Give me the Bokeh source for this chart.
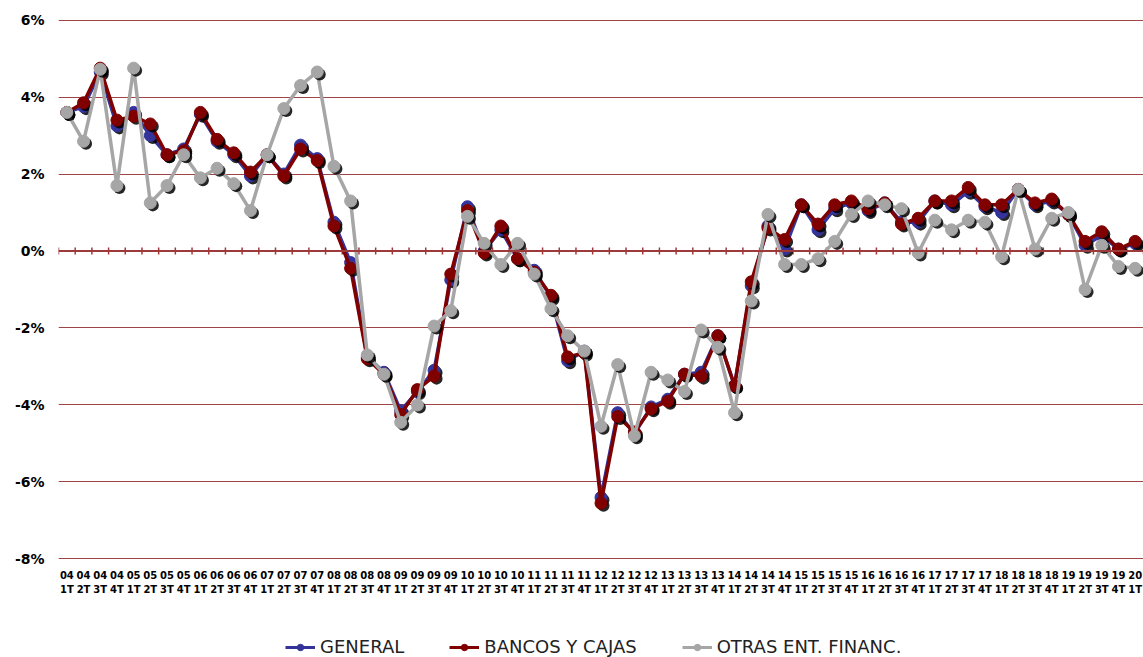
from bokeh.plotting import figure
from bokeh.layouts import column
from bokeh.models import Range1d, FixedTicker, Legend, LegendItem, Span, ColumnDataSource
from bokeh.embed import file_html
from bokeh.resources import INLINE

years = ["04","04","04","04","05","05","05","05","06","06","06","06","07","07","07","07",
         "08","08","08","08","09","09","09","09","10","10","10","10","11","11","11","11",
         "12","12","12","12","13","13","13","13","14","14","14","14","15","15","15","15",
         "16","16","16","16","17","17","17","17","18","18","18","18","19","19","19","19","20"]
quarters = ["1T","2T","3T","4T"] * 16 + ["1T"]

general = [3.6, 3.75, 4.65, 3.25, 3.6, 3.0, 2.5, 2.65, 3.55, 2.85, 2.5, 1.95, 2.5, 2.0, 2.75, 2.4,
           0.75, -0.3, -2.75, -3.15, -4.15, -3.65, -3.1, -0.75, 1.15, 0.0, 0.55, -0.2, -0.5, -1.2, -2.85, -2.6,
           -6.4, -4.2, -4.75, -4.05, -3.85, -3.2, -3.15, -2.2, -3.5, -0.9, 0.65, 0.05, 1.2, 0.55, 1.1, 1.25,
           1.05, 1.25, 0.75, 0.75, 1.3, 1.2, 1.55, 1.15, 1.0, 1.6, 1.2, 1.3, 0.95, 0.15, 0.4, 0.05, 0.2]
bancos = [3.6, 3.85, 4.75, 3.4, 3.5, 3.3, 2.5, 2.6, 3.6, 2.9, 2.55, 2.05, 2.5, 1.95, 2.65, 2.35,
          0.65, -0.45, -2.8, -3.2, -4.25, -3.6, -3.25, -0.6, 1.05, -0.05, 0.65, -0.2, -0.55, -1.15, -2.75, -2.65,
          -6.55, -4.3, -4.7, -4.1, -3.9, -3.2, -3.25, -2.2, -3.5, -0.8, 0.6, 0.3, 1.2, 0.7, 1.2, 1.3,
          1.1, 1.25, 0.7, 0.85, 1.3, 1.3, 1.65, 1.2, 1.2, 1.6, 1.25, 1.35, 0.95, 0.25, 0.5, 0.05, 0.25]
otras = [3.6, 2.85, 4.72, 1.7, 4.75, 1.25, 1.7, 2.5, 1.9, 2.15, 1.75, 1.05, 2.5, 3.7, 4.3, 4.65,
         2.2, 1.3, -2.7, -3.2, -4.45, -4.0, -1.95, -1.55, 0.9, 0.2, -0.35, 0.2, -0.6, -1.5, -2.2, -2.6,
         -4.55, -2.95, -4.8, -3.15, -3.35, -3.65, -2.05, -2.5, -4.2, -1.3, 0.95, -0.35, -0.35, -0.2, 0.25, 0.95,
         1.3, 1.2, 1.1, -0.05, 0.8, 0.55, 0.8, 0.75, -0.15, 1.6, 0.05, 0.85, 1.0, -1.0, 0.15, -0.4, -0.45]

series_names = ["GENERAL", "BANCOS Y CAJAS", "OTRAS ENT. FINANC."]
series_colors = ["#333399", "#800000", "#A6A6A6"]
y_ticks = [-8, -6, -4, -2, 0, 2, 4, 6]

n = len(years)
xs = list(range(n))

p = figure(width=1143, height=600, output_backend="svg", toolbar_location=None,
           x_range=Range1d(-0.5, n - 0.5), y_range=Range1d(-8.013, 6.013),
           min_border_left=58, min_border_right=0, min_border_top=19, min_border_bottom=41)
p.outline_line_color = None
p.background_fill_color = "white"
p.border_fill_color = "white"

# axes
p.xaxis.ticker = FixedTicker(ticks=xs)
p.xaxis.major_label_overrides = {i: f"{years[i]}\n{quarters[i]}" for i in xs}
p.xaxis.axis_line_color = None
p.xaxis.major_tick_line_color = None
p.xaxis.minor_tick_line_color = None
p.xaxis.major_tick_out = 0
p.xaxis.major_label_standoff = 10
p.xaxis.major_label_text_font = "DejaVu Sans"
p.xaxis.major_label_text_font_style = "bold"
p.xaxis.major_label_text_font_size = "10px"
p.xaxis.major_label_text_color = "black"
p.xaxis.major_label_text_line_height = 1.3

p.yaxis.ticker = FixedTicker(ticks=y_ticks)
p.yaxis.major_label_overrides = {t: f"{t}%" for t in y_ticks}
p.yaxis.axis_line_color = None
p.yaxis.major_tick_line_color = None
p.yaxis.minor_tick_line_color = None
p.yaxis.major_tick_out = 0
p.yaxis.major_label_standoff = 14
p.yaxis.major_label_text_font = "DejaVu Sans"
p.yaxis.major_label_text_font_style = "bold"
p.yaxis.major_label_text_font_size = "14px"
p.yaxis.major_label_text_color = "black"

p.xgrid.grid_line_color = None
p.ygrid.ticker = FixedTicker(ticks=[t for t in y_ticks if t != 0])
p.ygrid.grid_line_color = "#A04545"
p.ygrid.grid_line_width = 1

# zero line with category tick marks
p.add_layout(Span(location=0, dimension="width", line_color="#9E3A3A", line_width=2))
bounds = [i - 0.5 for i in range(n + 1)]
p.segment(x0=bounds, x1=bounds, y0=[-0.09] * len(bounds), y1=[0.09] * len(bounds),
          line_color="#9E3A3A", line_width=1.5)

# legend strip below the chart
lg = figure(width=1143, height=57, output_backend="svg", toolbar_location=None,
            x_range=Range1d(-0.5, n - 0.5), y_range=Range1d(100, 110),
            min_border_left=58, min_border_right=0, min_border_top=0, min_border_bottom=0,
            x_axis_type=None, y_axis_type=None)
lg.outline_line_color = None
lg.grid.visible = False
lg.border_fill_color = "white"
lg.background_fill_color = "white"

items = []
for name, color, vals in zip(series_names, series_colors, [general, bancos, otras]):
    src = ColumnDataSource(dict(x=xs, y=vals,
                                xs_sh=[x + 0.15 for x in xs], ys_sh=[v - 0.065 for v in vals]))
    p.line("x", "y", source=src, line_color=color, line_width=3.5)
    p.scatter("xs_sh", "ys_sh", source=src, size=12, fill_color="black", line_color=None, fill_alpha=0.85)
    p.scatter("x", "y", source=src, size=12, fill_color=color, line_color=color)
    # same data in the legend strip (outside its visible range), used only for legend glyphs
    l_ln = lg.line("x", "y", source=src, line_color=color, line_width=3)
    l_mk = lg.scatter("x", "y", source=src, size=8, fill_color=color, line_color=color)
    items.append(LegendItem(label=name, renderers=[l_ln, l_mk]))

legend = Legend(items=items, orientation="horizontal", location=(227, 0),
                spacing=45, padding=0, margin=0, glyph_width=30, glyph_height=16,
                label_height=16, label_standoff=5,
                label_text_font="DejaVu Sans", label_text_font_size="18px",
                label_text_color="#222222", border_line_color=None,
                background_fill_alpha=0)
lg.add_layout(legend, "center")

layout = column(p, lg, spacing=0)
open("out.html", "w").write(file_html(layout, INLINE))
